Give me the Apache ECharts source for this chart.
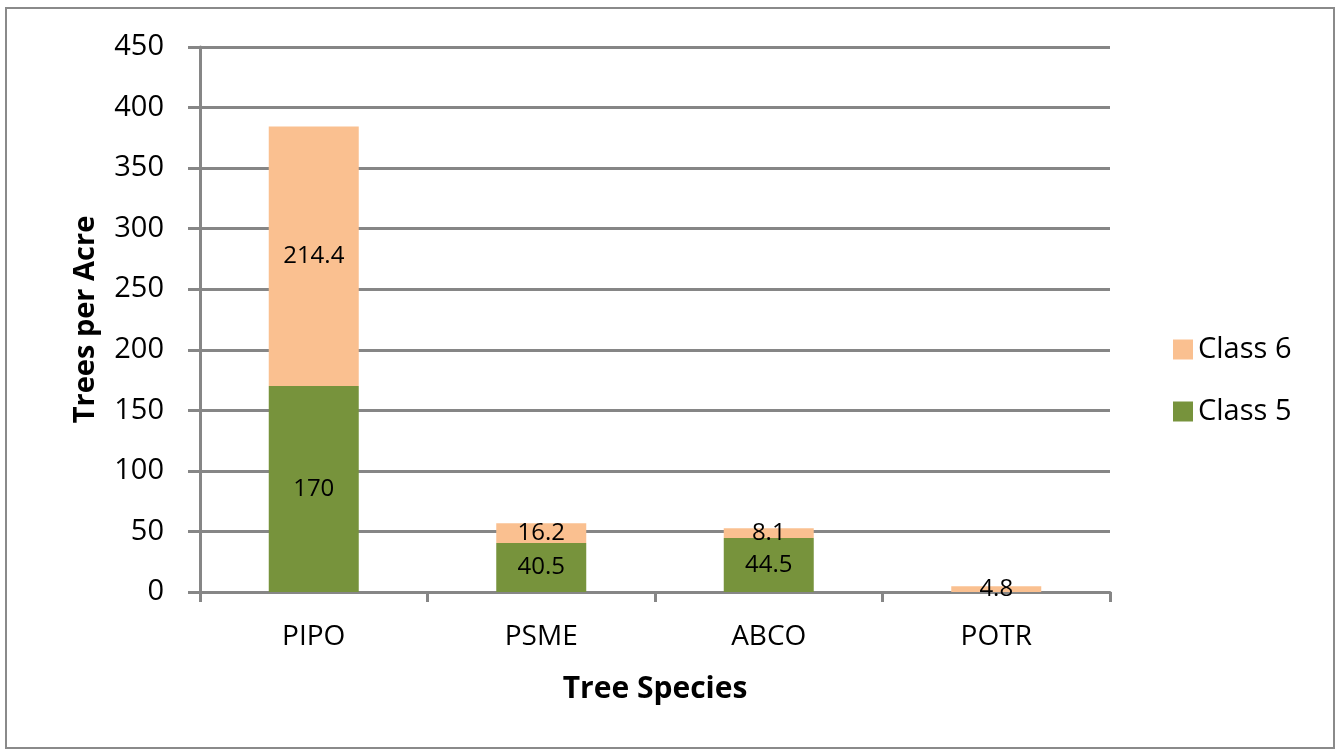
<!DOCTYPE html>
<html>
<head>
<meta charset="utf-8">
<script src="https://cdn.jsdelivr.net/npm/echarts@6/dist/echarts.min.js"></script>
<style>
    html, body { margin: 0; padding: 0; background: #fff; }
    #main { width: 1336px; height: 750px; }
</style>
</head>
<body>
<div id="main"></div>
<script>
var species = ['PIPO', 'PSME', 'ABCO', 'POTR'];
var class5 = [170, 40.5, 44.5, 0];
var class6 = [214.4, 16.2, 8.1, 4.8];

var font = '"Open Sans", Lato, sans-serif';

var chart = echarts.init(document.getElementById('main'));
chart.setOption({
    backgroundColor: '#fff',
    animation: false,
    textStyle: { fontFamily: font },
    graphic: [{
        type: 'rect',
        shape: { x: 6, y: 8, width: 1328, height: 740 },
        style: { fill: 'none', stroke: '#8a8a8a', lineWidth: 2 }
    }],
    grid: { left: 200, right: 226, top: 47, bottom: 158 },
    legend: {
        orient: 'vertical',
        left: 1168,
        top: 330,
        icon: 'rect',
        itemWidth: 20,
        itemHeight: 20,
        itemGap: 33,
        data: ['Class 6', 'Class 5'],
        textStyle: { fontSize: 29, color: '#000', fontFamily: font }
    },
    xAxis: {
        type: 'category',
        data: species,
        name: 'Tree Species',
        nameLocation: 'middle',
        nameGap: 82,
        nameTextStyle: { fontSize: 30, fontWeight: 'bold', color: '#000', fontFamily: font },
        axisLine: { lineStyle: { color: '#868686', width: 3 } },
        axisTick: { show: true, length: 10, lineStyle: { color: '#868686', width: 3 } },
        axisLabel: { fontSize: 28, color: '#000', margin: 31, fontFamily: font }
    },
    yAxis: {
        type: 'value',
        min: 0,
        max: 450,
        interval: 50,
        name: 'Trees per Acre',
        nameLocation: 'middle',
        nameGap: 100,
        nameTextStyle: { fontSize: 29, fontWeight: 'bold', color: '#000', fontFamily: font },
        axisLine: { show: true, lineStyle: { color: '#868686', width: 3 } },
        axisTick: { show: true, length: 12, lineStyle: { color: '#868686', width: 3 } },
        splitLine: { lineStyle: { color: '#868686', width: 3 } },
        axisLabel: { fontSize: 29, color: '#000', margin: 36, fontFamily: font }
    },
    series: [
        {
            name: 'Class 5',
            type: 'bar',
            stack: 'total',
            barWidth: 90,
            data: class5,
            itemStyle: { color: '#77933C' },
            label: {
                show: true,
                position: 'inside',
                fontSize: 24,
                color: '#000',
                fontFamily: font,
                formatter: function (p) { return p.value ? p.value : ''; }
            }
        },
        {
            name: 'Class 6',
            type: 'bar',
            stack: 'total',
            barWidth: 90,
            data: class6,
            itemStyle: { color: '#FAC090' },
            label: {
                show: true,
                position: 'inside',
                fontSize: 24,
                color: '#000',
                fontFamily: font
            }
        }
    ]
});
</script>
</body>
</html>
